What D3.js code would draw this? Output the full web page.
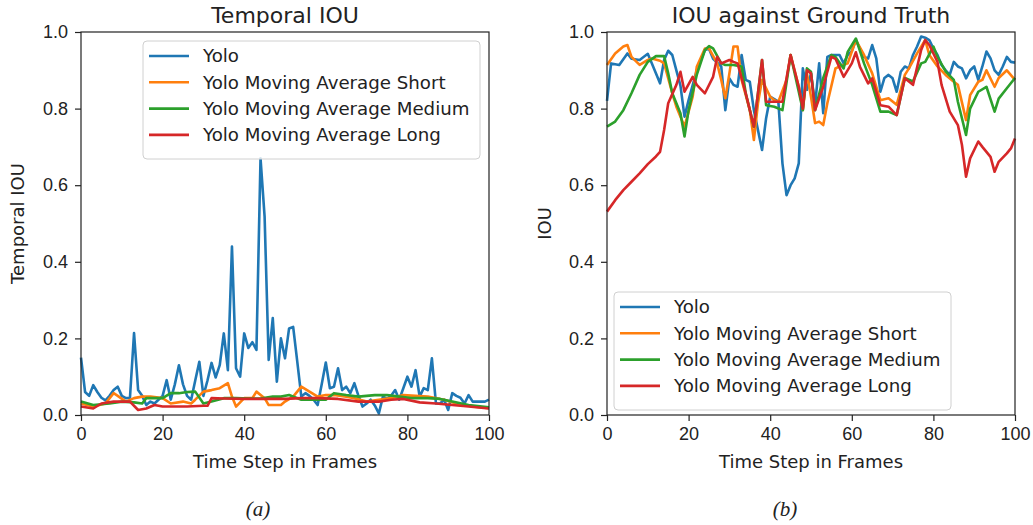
<!DOCTYPE html>
<html lang="en">
<head>
  <meta charset="UTF-8">
  <title>Temporal IOU / IOU against Ground Truth</title>
  <script src="https://d3js.org/d3.v7.min.js"></script>
  <style>
    body { margin: 0; background: #fff; }
    svg { font-family: "DejaVu Sans", sans-serif; }
    .axis text { font-size: 18px; fill: #222; }
    .axis path, .axis line { stroke: #222; stroke-width: 1.2px; }
    .title { font-size: 22px; fill: #222; text-anchor: middle; }
    .label { font-size: 18px; fill: #222; text-anchor: middle; }
    .legend text { font-size: 18.2px; fill: #222; }
    .caption { font-family: "Liberation Serif", serif; font-style: italic; font-size: 21px; fill: #222; text-anchor: middle; }
  </style>
</head>
<body>
  <div id="chart"></div>

  <script>
    // series names and colours (matplotlib tab10)
    const seriesNames = ["Yolo", "Yolo Moving Average Short", "Yolo Moving Average Medium", "Yolo Moving Average Long"];
    const seriesColors = ["#1f77b4", "#ff7f0e", "#2ca02c", "#d62728"];
    const xTicks = [0, 20, 40, 60, 80, 100];
    const yTicks = [0, 0.2, 0.4, 0.6, 0.8, 1.0];

    // (a) Temporal IOU, [frame, value]
    const temporalYolo = [[0,0.15],[1,0.06],[2,0.05],[3,0.078],[4,0.06],[5,0.045],[6,0.038],[7,0.05],[8,0.065],[9,0.074],[10,0.05],[11,0.044],[12,0.045],[13,0.214],[14,0.065],[15,0.05],[16,0.026],[17,0.035],[18,0.03],[19,0.04],[20,0.05],[21,0.091],[22,0.04],[23,0.08],[24,0.13],[25,0.08],[26,0.05],[27,0.04],[28,0.09],[29,0.139],[30,0.05],[31,0.09],[32,0.136],[33,0.098],[34,0.13],[35,0.213],[36,0.117],[37,0.44],[38,0.122],[39,0.1],[40,0.213],[41,0.175],[42,0.19],[43,0.17],[44,0.67],[45,0.518],[46,0.144],[47,0.253],[48,0.087],[49,0.2],[50,0.148],[51,0.226],[52,0.23],[53,0.14],[54,0.048],[55,0.057],[56,0.05],[57,0.04],[58,0.026],[59,0.08],[60,0.137],[61,0.07],[62,0.074],[63,0.122],[64,0.065],[65,0.074],[66,0.057],[67,0.083],[68,0.05],[69,0.022],[70,0.03],[71,0.04],[72,0.025],[73,0.004],[74,0.048],[75,0.042],[76,0.05],[77,0.065],[78,0.04],[79,0.07],[80,0.1],[81,0.074],[82,0.117],[83,0.048],[84,0.07],[85,0.065],[86,0.148],[87,0.03],[88,0.03],[89,0.04],[90,0.013],[91,0.057],[92,0.05],[93,0.045],[94,0.03],[95,0.052],[96,0.035],[97,0.035],[98,0.035],[99,0.035],[100,0.04]];
    const temporalShort = [[0,0.03],[3,0.022],[6,0.03],[8,0.057],[9,0.05],[11,0.035],[13,0.044],[15,0.048],[17,0.048],[20,0.044],[22,0.03],[25,0.035],[27,0.03],[28,0.04],[30,0.061],[32,0.065],[34,0.07],[36,0.083],[37,0.048],[38,0.022],[40,0.044],[42,0.044],[43,0.061],[45,0.044],[46,0.026],[49,0.026],[50,0.035],[52,0.048],[54,0.074],[56,0.061],[58,0.048],[60,0.052],[62,0.052],[65,0.048],[67,0.044],[70,0.035],[73,0.04],[76,0.044],[79,0.052],[82,0.05],[85,0.048],[89,0.04],[92,0.03],[96,0.022],[100,0.018]];
    const temporalMedium = [[0,0.035],[3,0.026],[7,0.03],[10,0.035],[13,0.033],[15,0.03],[16,0.044],[18,0.044],[20,0.044],[22,0.057],[24,0.057],[26,0.06],[28,0.061],[30,0.03],[32,0.035],[35,0.044],[38,0.044],[41,0.043],[44,0.043],[47,0.048],[49,0.048],[51,0.052],[54,0.04],[57,0.04],[60,0.04],[62,0.057],[65,0.052],[68,0.048],[72,0.052],[75,0.052],[78,0.048],[81,0.044],[85,0.044],[88,0.042],[91,0.035],[95,0.026],[100,0.02]];
    const temporalLong = [[0,0.022],[3,0.017],[5,0.03],[8,0.035],[12,0.035],[14,0.013],[16,0.017],[18,0.026],[20,0.022],[23,0.022],[26,0.022],[30,0.024],[31,0.024],[32,0.044],[35,0.043],[40,0.042],[44,0.042],[50,0.042],[54,0.044],[58,0.044],[63,0.042],[68,0.035],[73,0.035],[76,0.04],[79,0.042],[83,0.033],[87,0.03],[91,0.026],[95,0.022],[100,0.017]];

    // (b) IOU against ground truth, [frame, value]
    const gtYolo = [[0,0.82],[1,0.918],[3,0.914],[5,0.944],[6,0.93],[8,0.927],[10,0.943],[11,0.918],[13,0.866],[14,0.927],[15,0.951],[16,0.94],[17,0.9],[18,0.86],[19,0.779],[20,0.822],[22,0.9],[24,0.953],[25,0.956],[26,0.93],[28,0.91],[29,0.796],[30,0.879],[31,0.862],[32,0.857],[33,0.94],[34,0.875],[35,0.87],[36,0.796],[38,0.692],[39,0.775],[40,0.831],[41,0.825],[42,0.818],[43,0.657],[44,0.574],[45,0.6],[46,0.618],[47,0.657],[48,0.905],[49,0.849],[50,0.892],[51,0.809],[52,0.918],[53,0.788],[54,0.935],[55,0.94],[57,0.94],[58,0.918],[59,0.94],[60,0.95],[61,0.979],[62,0.957],[63,0.935],[64,0.931],[65,0.966],[66,0.931],[67,0.844],[68,0.88],[69,0.888],[70,0.879],[71,0.844],[72,0.896],[73,0.91],[74,0.905],[75,0.94],[76,0.962],[77,0.988],[78,0.985],[79,0.979],[80,0.957],[81,0.94],[82,0.914],[83,0.9],[84,0.888],[85,0.922],[86,0.91],[87,0.905],[88,0.879],[89,0.9],[90,0.91],[91,0.875],[92,0.91],[93,0.949],[94,0.931],[95,0.9],[96,0.888],[97,0.91],[98,0.935],[99,0.922],[100,0.92]];
    const gtShort = [[0,0.914],[2,0.944],[4,0.962],[5,0.966],[6,0.935],[8,0.914],[10,0.927],[11,0.931],[13,0.925],[14,0.918],[16,0.84],[17,0.805],[19,0.753],[21,0.831],[22,0.909],[24,0.957],[25,0.957],[27,0.918],[28,0.875],[29,0.827],[30,0.892],[31,0.962],[32,0.962],[33,0.875],[35,0.796],[36,0.718],[37,0.814],[38,0.875],[40,0.831],[41,0.822],[42,0.818],[44,0.875],[45,0.94],[47,0.857],[48,0.796],[49,0.892],[50,0.831],[51,0.762],[52,0.766],[53,0.757],[54,0.814],[56,0.905],[57,0.91],[59,0.918],[61,0.979],[63,0.94],[65,0.892],[67,0.822],[69,0.827],[71,0.81],[73,0.888],[74,0.905],[76,0.944],[78,0.979],[79,0.94],[81,0.91],[83,0.888],[85,0.87],[86,0.862],[88,0.77],[89,0.835],[91,0.87],[92,0.875],[93,0.9],[95,0.857],[96,0.88],[98,0.9],[100,0.875]];
    const gtMedium = [[0,0.753],[2,0.766],[4,0.796],[6,0.84],[8,0.888],[10,0.922],[12,0.937],[14,0.937],[15,0.892],[16,0.84],[18,0.788],[19,0.727],[20,0.796],[22,0.888],[24,0.953],[25,0.963],[26,0.957],[28,0.918],[29,0.914],[31,0.914],[33,0.91],[34,0.84],[36,0.753],[38,0.927],[39,0.809],[41,0.805],[43,0.796],[45,0.94],[47,0.844],[48,0.796],[49,0.905],[50,0.896],[51,0.796],[53,0.88],[55,0.94],[56,0.935],[58,0.905],[59,0.948],[61,0.983],[63,0.918],[65,0.862],[67,0.792],[69,0.792],[71,0.783],[73,0.88],[75,0.871],[77,0.918],[78,0.922],[80,0.962],[81,0.935],[83,0.897],[85,0.875],[86,0.818],[88,0.731],[89,0.8],[91,0.844],[93,0.857],[95,0.792],[96,0.826],[98,0.853],[100,0.88]];
    const gtLong = [[0,0.531],[2,0.561],[4,0.587],[6,0.609],[8,0.631],[10,0.655],[12,0.675],[13,0.687],[14,0.744],[15,0.814],[17,0.862],[18,0.896],[19,0.844],[21,0.883],[22,0.862],[24,0.84],[26,0.883],[27,0.935],[28,0.918],[30,0.927],[31,0.922],[32,0.918],[34,0.84],[36,0.753],[38,0.927],[39,0.818],[41,0.818],[43,0.818],[45,0.94],[47,0.857],[48,0.8],[49,0.9],[50,0.892],[51,0.796],[53,0.857],[55,0.935],[56,0.93],[58,0.883],[60,0.918],[61,0.947],[62,0.909],[64,0.866],[65,0.879],[67,0.809],[69,0.805],[71,0.783],[73,0.879],[75,0.862],[77,0.953],[78,0.979],[79,0.966],[81,0.922],[82,0.862],[84,0.792],[86,0.757],[87,0.705],[88,0.622],[89,0.67],[91,0.714],[92,0.7],[94,0.674],[95,0.635],[96,0.661],[98,0.683],[99,0.696],[100,0.722]];

    const svg = d3.select("#chart")
      .append("svg")
      .attr("width", 1033)
      .attr("height", 525);

    const plotW = 408, plotH = 383, plotTop = 32;

    function drawPanel(opts) {
      const g = svg.append("g")
        .attr("transform", "translate(" + opts.left + "," + plotTop + ")");

      const x = d3.scaleLinear().domain([0, 100]).range([0, plotW]);
      const y = d3.scaleLinear().domain([0, 1]).range([plotH, 0]);

      const line = d3.line()
        .x(d => x(d[0]))
        .y(d => y(d[1]));

      // lines, drawn in legend order so later ones sit on top
      opts.series.forEach((s, i) => {
        g.append("path")
          .datum(s)
          .attr("fill", "none")
          .attr("stroke", seriesColors[i])
          .attr("stroke-width", 2.6)
          .attr("stroke-linejoin", "round")
          .attr("d", line);
      });

      // frame
      g.append("rect")
        .attr("width", plotW)
        .attr("height", plotH)
        .attr("fill", "none")
        .attr("stroke", "#222")
        .attr("stroke-width", 1.2);

      g.append("g")
        .attr("class", "axis")
        .attr("transform", "translate(0," + plotH + ")")
        .call(d3.axisBottom(x).tickValues(xTicks).tickSize(6).tickPadding(6).tickFormat(d3.format("d")))
        .call(a => a.select(".domain").remove());

      g.append("g")
        .attr("class", "axis")
        .call(d3.axisLeft(y).tickValues(yTicks).tickSize(6).tickPadding(7).tickFormat(d3.format(".1f")))
        .call(a => a.select(".domain").remove());

      g.append("text")
        .attr("class", "title")
        .attr("x", plotW / 2)
        .attr("y", -9)
        .text(opts.title);

      g.append("text")
        .attr("class", "label")
        .attr("x", plotW / 2)
        .attr("y", plotH + 53)
        .text("Time Step in Frames");

      g.append("text")
        .attr("class", "label")
        .attr("transform", "rotate(-90)")
        .attr("x", -plotH / 2)
        .attr("y", opts.ylabelX)
        .text(opts.ylabel);

      // legend
      const lg = g.append("g")
        .attr("class", "legend")
        .attr("transform", "translate(" + opts.legend[0] + "," + opts.legend[1] + ")");

      lg.append("rect")
        .attr("width", 337)
        .attr("height", 118)
        .attr("rx", 4)
        .attr("fill", "#fff")
        .attr("fill-opacity", 0.8)
        .attr("stroke", "#d0d0d0")
        .attr("stroke-width", 1);

      seriesNames.forEach((name, i) => {
        const cy = 15 + i * 26.3;
        lg.append("line")
          .attr("x1", 6).attr("x2", 46)
          .attr("y1", cy).attr("y2", cy)
          .attr("stroke", seriesColors[i])
          .attr("stroke-width", 2.6);
        lg.append("text")
          .attr("x", 60)
          .attr("y", cy)
          .attr("dy", "0.35em")
          .text(name);
      });

      svg.append("text")
        .attr("class", "caption")
        .attr("x", opts.captionX)
        .attr("y", 516)
        .text(opts.caption);
    }

    drawPanel({
      left: 81,
      title: "Temporal IOU",
      ylabel: "Temporal IOU",
      ylabelX: -57,
      series: [temporalYolo, temporalShort, temporalMedium, temporalLong],
      legend: [62, 9],
      caption: "(a)",
      captionX: 258
    });

    drawPanel({
      left: 607,
      title: "IOU against Ground Truth",
      ylabel: "IOU",
      ylabelX: -56,
      series: [gtYolo, gtShort, gtMedium, gtLong],
      legend: [7, 260],
      caption: "(b)",
      captionX: 785
    });
  </script>
</body>
</html>
